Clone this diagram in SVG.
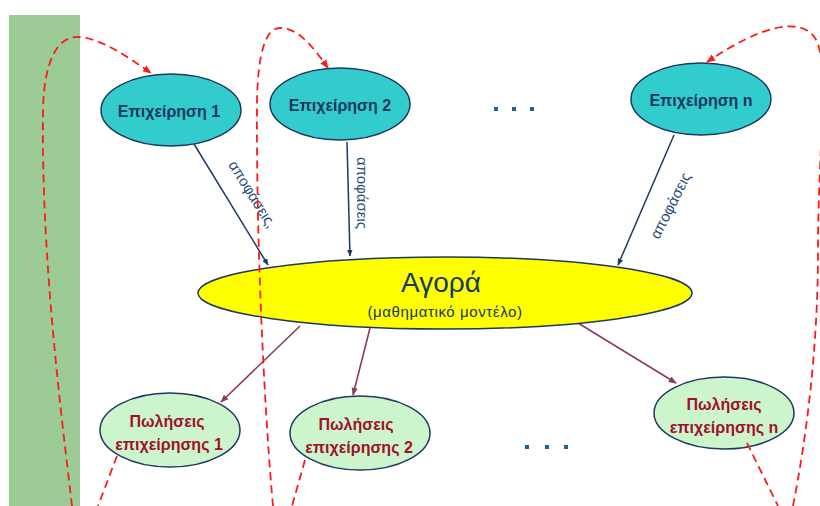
<svg xmlns="http://www.w3.org/2000/svg" width="820" height="506" viewBox="0 0 820 506">
  <style>
    .firm { fill: #33cccc; stroke: #1f3864; stroke-width: 1.5; }
    .firm-t { font-family: "Liberation Sans", Arial, sans-serif; font-size: 16px; font-weight: bold; fill: #17375e; text-anchor: middle; }
    .sales { fill: #ccf5cc; stroke: #1f3864; stroke-width: 1.5; }
    .sales-t { font-family: "Liberation Sans", Arial, sans-serif; font-size: 16px; font-weight: bold; fill: #a0102e; text-anchor: middle; }
    .market { fill: #ffff00; stroke: #1f3864; stroke-width: 1.5; }
    .lbl { font-family: "Liberation Sans", Arial, sans-serif; font-size: 15px; fill: #1f4e79; text-anchor: middle; }
    .dec { stroke: #1f3864; stroke-width: 1.5; fill: none; marker-end: url(#arrNavy); }
    .out { stroke: #8b3a62; stroke-width: 1.6; fill: none; marker-end: url(#arrRed); }
    .loop { stroke: #ff1a1a; stroke-width: 1.8; stroke-dasharray: 8 5; fill: none; }
    .dots { fill: #1f5f9f; }
  </style>
  <defs>
    <marker id="arrNavy" viewBox="0 0 10 10" refX="9" refY="5" markerWidth="7" markerHeight="7" orient="auto" markerUnits="userSpaceOnUse">
      <path d="M0,1 L10,5 L0,9 z" fill="#1f3864"/>
    </marker>
    <marker id="arrRed" viewBox="0 0 10 10" refX="9" refY="5" markerWidth="8" markerHeight="8" orient="auto" markerUnits="userSpaceOnUse">
      <path d="M0,1 L10,5 L0,9 z" fill="#8b3a62"/>
    </marker>
    <marker id="arrLoop" viewBox="0 0 10 10" refX="9" refY="5" markerWidth="9" markerHeight="9" orient="auto" markerUnits="userSpaceOnUse">
      <path d="M0,1 L10,5 L0,9 z" fill="#ff1a1a"/>
    </marker>
  </defs>

  <rect x="9" y="15" width="71" height="491" fill="#9dcb96"/>

  <g id="connectors">
    <line class="dec" x1="194" y1="144" x2="268" y2="265"/>
    <line class="dec" x1="347" y1="142" x2="350" y2="256"/>
    <line class="dec" x1="674" y1="135" x2="618" y2="265"/>
    <line class="out" x1="300" y1="326" x2="221" y2="402"/>
    <line class="out" x1="370" y1="328" x2="353" y2="395"/>
    <line class="out" x1="578" y1="323" x2="676" y2="383"/>
  </g>

  <g id="labels">
    <text class="lbl" transform="translate(248,197) rotate(58)">αποφάσεις,</text>
    <text class="lbl" transform="translate(357,193) rotate(90)">αποφάσεις</text>
    <text class="lbl" transform="translate(675,208) rotate(-63)">αποφάσεις</text>
  </g>

  <g id="market">
    <ellipse class="market" cx="445" cy="293" rx="247" ry="36"/>
    <text x="441" y="292" font-family="Liberation Sans, Arial, sans-serif" font-size="28" fill="#17375e" text-anchor="middle">Αγορά</text>
    <text x="445" y="317" font-family="Liberation Sans, Arial, sans-serif" font-size="15" letter-spacing="0.6" fill="#17375e" text-anchor="middle">(μαθηματικό μοντέλο)</text>
  </g>

  <g id="firm1">
    <ellipse class="firm" cx="171" cy="110" rx="70" ry="36"/>
    <text class="firm-t" x="169" y="117">Επιχείρηση 1</text>
  </g>
  <g id="firm2">
    <ellipse class="firm" cx="340" cy="104" rx="70" ry="36"/>
    <text class="firm-t" x="340" y="111">Επιχείρηση 2</text>
  </g>
  <g id="firmN">
    <ellipse class="firm" cx="701" cy="99" rx="70" ry="36"/>
    <text class="firm-t" x="701" y="106">Επιχείρηση n</text>
  </g>

  <g id="sales1">
    <ellipse class="sales" cx="170" cy="430" rx="70" ry="37"/>
    <text class="sales-t" x="167" y="427">Πωλήσεις</text>
    <text class="sales-t" x="169" y="450">επιχείρησης 1</text>
  </g>
  <g id="sales2">
    <ellipse class="sales" cx="360" cy="433" rx="70" ry="37"/>
    <text class="sales-t" x="356" y="430">Πωλήσεις</text>
    <text class="sales-t" x="359" y="453">επιχείρησης 2</text>
  </g>
  <g id="salesN">
    <ellipse class="sales" cx="724" cy="413" rx="70" ry="36"/>
    <text class="sales-t" x="724" y="410">Πωλήσεις</text>
    <text class="sales-t" x="724" y="433">επιχείρησης n</text>
  </g>

  <g id="ellipsis">
    <rect class="dots" x="494" y="107" width="4" height="4"/>
    <rect class="dots" x="512" y="107" width="4" height="4"/>
    <rect class="dots" x="530" y="107" width="4" height="4"/>
    <rect class="dots" x="525" y="445" width="4" height="4"/>
    <rect class="dots" x="545" y="445" width="4" height="4"/>
    <rect class="dots" x="564" y="445" width="4" height="4"/>
  </g>

  <g id="feedback">
    <path class="loop" d="M72,506 C62,420 41,260 43,110 C44,60 58,36 78,37 C100,38 125,55 151,73" marker-end="url(#arrLoop)"/>
    <path class="loop" d="M117,456 L98,506"/>
    <path class="loop" d="M273,506 C266,430 256,260 257,100 C258,55 265,28 280,28 C300,28 315,50 328,68" marker-end="url(#arrLoop)"/>
    <path class="loop" d="M305,460 L292,506"/>
    <path class="loop" d="M793,506 C806,440 818,350 818,250 C818,150 830,60 815,38 C800,16 760,26 707,62" marker-end="url(#arrLoop)"/>
    <path class="loop" d="M747,443 L778,506"/>
  </g>
</svg>
